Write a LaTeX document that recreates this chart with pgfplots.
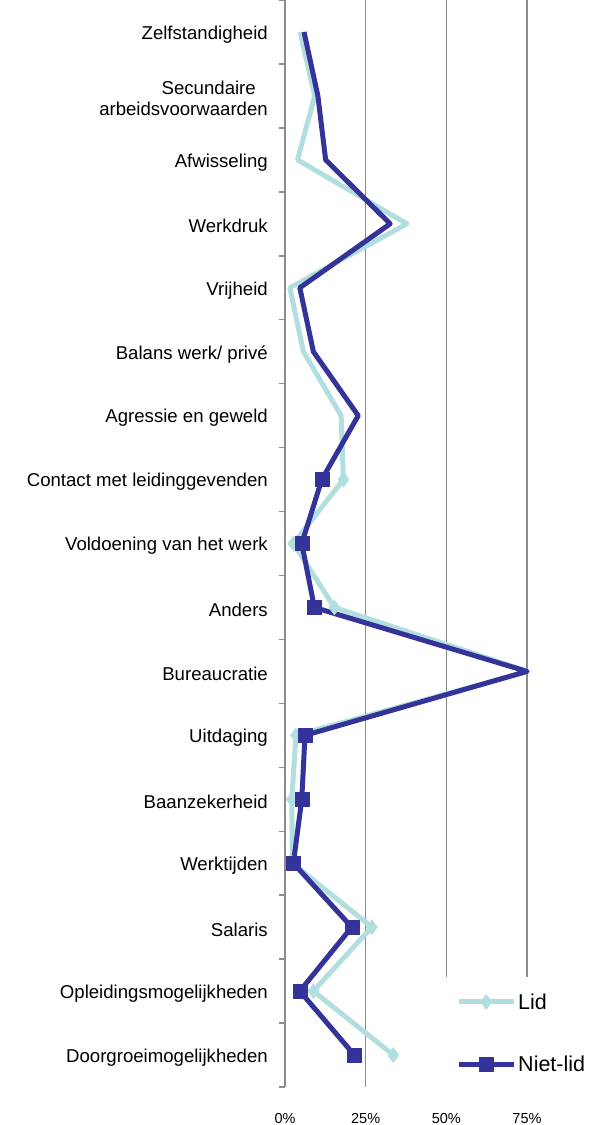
\documentclass[border=0pt]{standalone}
\usepackage{fontspec}
\setmainfont{Liberation Sans}
\usepackage{pgfplots}
\pgfplotsset{compat=1.18}
\definecolor{lid}{HTML}{B3DEE0}
\definecolor{niet}{HTML}{333399}
\definecolor{gridc}{HTML}{8C8C8C}
\begin{document}
\begin{tikzpicture}
\useasboundingbox (-285pt,-38pt) rectangle (321pt,1087pt);
\begin{axis}[
  at={(0pt,0pt)}, anchor=south west,
  scale only axis, width=321pt, height=1087pt,
  xmin=0, xmax=99.5, ymin=-0.5, ymax=16.5, y dir=reverse,
  xtick={0,25,50,75}, xticklabels={0\%,25\%,50\%,75\%},
  ytick={0,...,16},
  yticklabels={Zelfstandigheid,{Secundaire\hspace*{12pt}\\arbeidsvoorwaarden},Afwisseling,Werkdruk,Vrijheid,{Balans werk/ privé},{Agressie en geweld},{Contact met leidinggevenden},{Voldoening van het werk},Anders,Bureaucratie,Uitdaging,Baanzekerheid,Werktijden,Salaris,Opleidingsmogelijkheden,Doorgroeimogelijkheden},
  minor ytick={-0.5,0.5,...,16.5},
  axis y line*=left, axis x line*=bottom,
  x axis line style={draw=none},
  y axis line style={gridc, line width=1.5pt},
  xmajorgrids, major grid style={gridc, line width=1.2pt},
  tick align=outside, major tick length=0pt, minor tick length=6pt,
  xtick style={draw=none},
  minor y tick style={gridc, line width=1.5pt},
  yticklabel style={font=\fontsize{18.6}{21.5}\selectfont, align=right, inner sep=0pt, xshift=-17pt, yshift=-2.5pt},
  xticklabel style={font=\fontsize{14.5}{17}\selectfont, inner sep=0pt, yshift=-26pt},
  /pgf/number format/assume math mode=true,
  clip=true,
  legend style={at={(0.483,0.101)}, anchor=north west, draw=none, fill=white,
    font=\fontsize{21.5}{25}\selectfont, inner xsep=16pt, inner ysep=14pt, row sep=41pt,
    legend cell align=left},
  legend image code/.code={
    \draw[#1, mark indices={2}] plot coordinates {(0pt,0pt) (27.5pt,0pt) (55pt,0pt)};
  },
]
\addplot[lid, line width=5pt, line join=round, mark=diamond*, mark size=7.5pt,
  mark options={lid, line width=0.5pt}, mark indices={8,9,10,12,13,14,15,16,17}]
  coordinates {
  (4.7,0) (9.2,1) (3.9,2) (37.8,3) (1.5,4) (5.7,5) (17.4,6) (18.1,7) (2.6,8)
  (15.3,9) (75.3,10) (3.4,11) (2.1,12) (2.3,13) (26.9,14) (8.8,15) (33.6,16)};
\addlegendentry{Lid}
\addplot[niet, line width=5pt, line join=round, mark=square*, mark size=7pt,
  mark options={niet, line width=0.5pt}, mark indices={8,9,10,12,13,14,15,16,17}]
  coordinates {
  (5.9,0) (10.2,1) (12.6,2) (32.6,3) (4.6,4) (8.8,5) (22.7,6) (11.4,7) (5.2,8)
  (9.1,9) (75.0,10) (6.2,11) (5.2,12) (2.6,13) (20.7,14) (4.6,15) (21.5,16)};
\addlegendentry{Niet-lid}
\end{axis}
\end{tikzpicture}
\end{document}
